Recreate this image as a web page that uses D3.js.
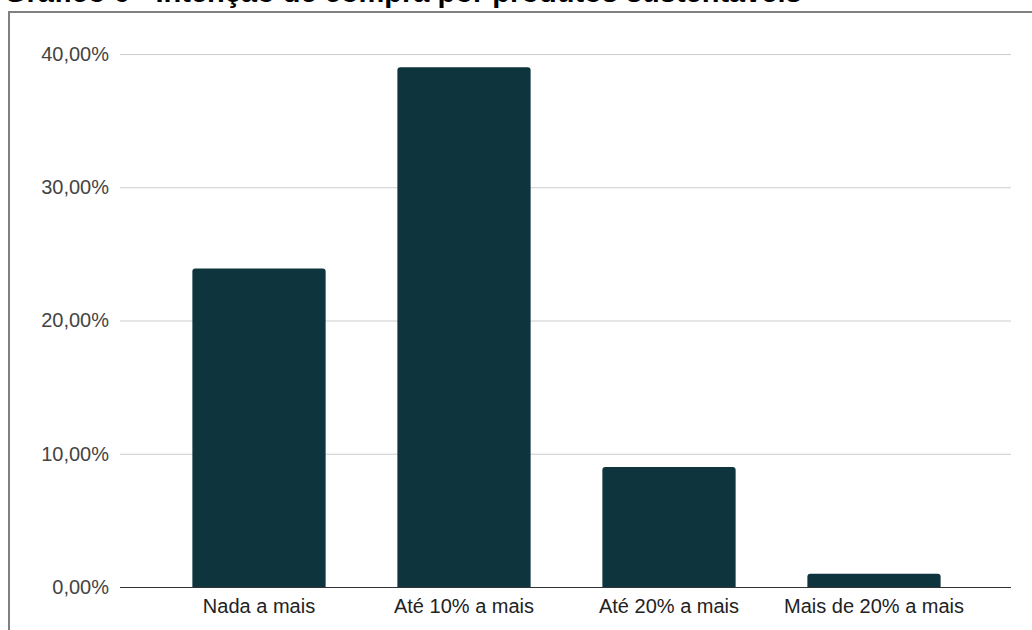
<!DOCTYPE html>
<html>
<head>
<meta charset="utf-8">
<script src="https://cdn.jsdelivr.net/npm/d3@7"></script>
<style>
  html, body { margin: 0; padding: 0; background: #fff; }
  svg { display: block; }
  text { font-family: Arial, "Liberation Sans", sans-serif; }
</style>
</head>
<body>
<svg id="chart" width="1032" height="630"></svg>
<script>
// Survey answers: how much more people would pay for sustainable products
const categories = ["Nada a mais", "Até 10% a mais", "Até 20% a mais", "Mais de 20% a mais"];
const shares = [23.9, 39.0, 9.0, 1.0];
const yTicks = [0, 10, 20, 30, 40];
const titleText = "Gráfico 6 - Intenção de compra por produtos sustentáveis";

const svg = d3.select("#chart");
const W = 1032, H = 630;

const plot = { left: 120, right: 1011, top: 54, bottom: 587 };

const x = d3.scaleBand()
  .domain(categories)
  .range([156.5, 976.5])
  .paddingInner(0.35)
  .paddingOuter(0.175);

const y = d3.scaleLinear()
  .domain([0, 40])
  .range([plot.bottom, plot.top]);

const fmt = v => d3.format(".2f")(v).replace(".", ",") + "%";

// Title (mostly above the visible area)
svg.append("text")
  .attr("x", 4)
  .attr("y", 2)
  .attr("font-size", 29)
  .attr("font-weight", "bold")
  .attr("fill", "#000")
  .text(titleText);

// Frame around the chart
svg.append("path")
  .attr("d", `M9,${H + 5} V12 H${W + 5}`)
  .attr("fill", "none")
  .attr("stroke", "#808080")
  .attr("stroke-width", 2);

// Horizontal gridlines and y labels
const yAxis = d3.axisLeft(y)
  .tickValues(yTicks)
  .tickSize(-(plot.right - plot.left))
  .tickPadding(11)
  .tickFormat(fmt);

const gy = svg.append("g")
  .attr("transform", `translate(${plot.left},0)`)
  .call(yAxis);
gy.select(".domain").remove();
gy.selectAll(".tick line")
  .attr("stroke", d => d === 0 ? "none" : "#cccccc")
  .attr("stroke-width", 1);
gy.selectAll(".tick text")
  .attr("font-size", 20)
  .attr("fill", "#444")
  .attr("font-family", "Arial, 'Liberation Sans', sans-serif");

// Bars with slightly rounded top corners
const r = 3;
svg.append("g")
  .selectAll("path")
  .data(categories.map((c, i) => ({ c, v: shares[i] })))
  .join("path")
  .attr("fill", "#0e343d")
  .attr("d", d => {
    const x0 = x(d.c), x1 = x0 + x.bandwidth();
    const yt = y(d.v), yb = y(0);
    return `M${x0},${yb} V${yt + r} Q${x0},${yt} ${x0 + r},${yt} H${x1 - r} Q${x1},${yt} ${x1},${yt + r} V${yb} Z`;
  });

// Baseline and category labels
const xAxis = d3.axisBottom(x).tickSize(0).tickPadding(12);
const gx = svg.append("g")
  .attr("transform", `translate(0,${plot.bottom})`)
  .call(xAxis);
gx.select(".domain").remove();
gx.append("line")
  .attr("x1", plot.left).attr("x2", plot.right)
  .attr("y1", 0.5).attr("y2", 0.5)
  .attr("stroke", "#333").attr("stroke-width", 1);
gx.selectAll(".tick text")
  .attr("font-size", 20)
  .attr("fill", "#222")
  .attr("font-family", "Arial, 'Liberation Sans', sans-serif");
</script>
</body>
</html>
